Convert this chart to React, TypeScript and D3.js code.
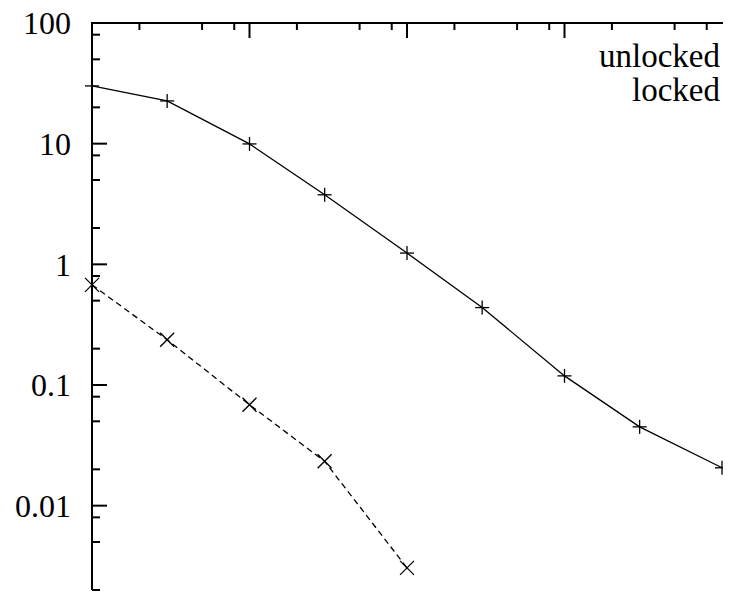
import React from "react";
import * as d3 from "d3";

const xValues = [1, 3, 10, 30, 100, 300, 1000, 3000, 10000];
const unlocked = [30.1, 22.6, 9.95, 3.77, 1.24, 0.438, 0.119, 0.045, 0.0206];
const lockedX = [1, 3, 10, 30, 100];
const locked = [0.676, 0.237, 0.0686, 0.0233, 0.00305];
const yMajor = [0.01, 0.1, 1, 10, 100];
const yLabels = ["0.01", "0.1", "1", "10", "100"];
const seriesNames = ["unlocked", "locked"];

const W = 734;
const H = 600;

export default function App() {
  const x = d3.scaleLog().domain([1, 10000]).range([92, 722]);
  const y = d3.scaleLog().domain([0.002, 100]).range([590, 23]);

  const xMajor = [10, 100, 1000];
  const xMinor: number[] = [];
  for (let k = 0; k <= 3; k++) [2, 5, 8].forEach((m) => xMinor.push(m * Math.pow(10, k)));
  const yMinor: number[] = [];
  for (let k = -3; k <= 1; k++) [2, 5, 8].forEach((m) => yMinor.push(m * Math.pow(10, k)));

  const line = d3
    .line<[number, number]>()
    .x((d) => x(d[0]))
    .y((d) => y(d[1]));

  const uPts: [number, number][] = xValues.map((v, i) => [v, unlocked[i]]);
  const lPts: [number, number][] = lockedX.map((v, i) => [v, locked[i]]);
  const textStyle: React.CSSProperties = { fontFamily: '"Liberation Serif"' };
  const m = 7;

  return (
    <svg width={W} height={H} style={{ position: "absolute", left: 0, top: 0, background: "#fff" }}>
      <defs>
        <clipPath id="clipR">
          <rect x={0} y={0} width={723} height={H} />
        </clipPath>
      </defs>
      <rect x={0} y={0} width={W} height={H} fill="#fff" />
      <line x1={91} x2={723} y1={23} y2={23} stroke="#000" strokeWidth={2} />
      <line x1={92} x2={92} y1={22} y2={590} stroke="#000" strokeWidth={2} />
      {xMajor.map((v) => (
        <line key={"xM" + v} x1={x(v)} x2={x(v)} y1={23} y2={38} stroke="#000" strokeWidth={2} />
      ))}
      {xMinor.map((v) => (
        <line key={"xm" + v} x1={x(v)} x2={x(v)} y1={23} y2={30} stroke="#000" strokeWidth={2} />
      ))}
      {yMajor.map((v) => (
        <line key={"yM" + v} x1={92} x2={107} y1={y(v)} y2={y(v)} stroke="#000" strokeWidth={2} />
      ))}
      {yMinor.map((v) => (
        <line key={"ym" + v} x1={92} x2={100} y1={y(v)} y2={y(v)} stroke="#000" strokeWidth={2} />
      ))}
      {yMajor.map((v, i) => (
        <text
          key={"yl" + v}
          x={71}
          y={y(v)}
          dy="0.35em"
          textAnchor="end"
          style={textStyle}
          fontSize={32}
          fill="#000"
        >
          {yLabels[i]}
        </text>
      ))}
      {seriesNames.map((n, i) => (
        <text key={n} x={720} y={67 + i * 34} textAnchor="end" style={textStyle} fontSize={33} fill="#000">
          {n}
        </text>
      ))}
      <g clipPath="url(#clipR)">
        <path d={line(uPts) || ""} fill="none" stroke="#000" strokeWidth={1.3} />
        {uPts.map((p, i) => (
          <g key={"u" + i} stroke="#000" strokeWidth={1.3}>
            <line x1={x(p[0]) - m} x2={x(p[0]) + m} y1={y(p[1])} y2={y(p[1])} />
            <line x1={x(p[0])} x2={x(p[0])} y1={y(p[1]) - m} y2={y(p[1]) + m} />
          </g>
        ))}
        <path d={line(lPts) || ""} fill="none" stroke="#000" strokeWidth={1.3} strokeDasharray="6,4" />
        {lPts.map((p, i) => (
          <g key={"l" + i} stroke="#000" strokeWidth={1.3}>
            <line x1={x(p[0]) - m} x2={x(p[0]) + m} y1={y(p[1]) - m} y2={y(p[1]) + m} />
            <line x1={x(p[0]) - m} x2={x(p[0]) + m} y1={y(p[1]) + m} y2={y(p[1]) - m} />
          </g>
        ))}
      </g>
    </svg>
  );
}
